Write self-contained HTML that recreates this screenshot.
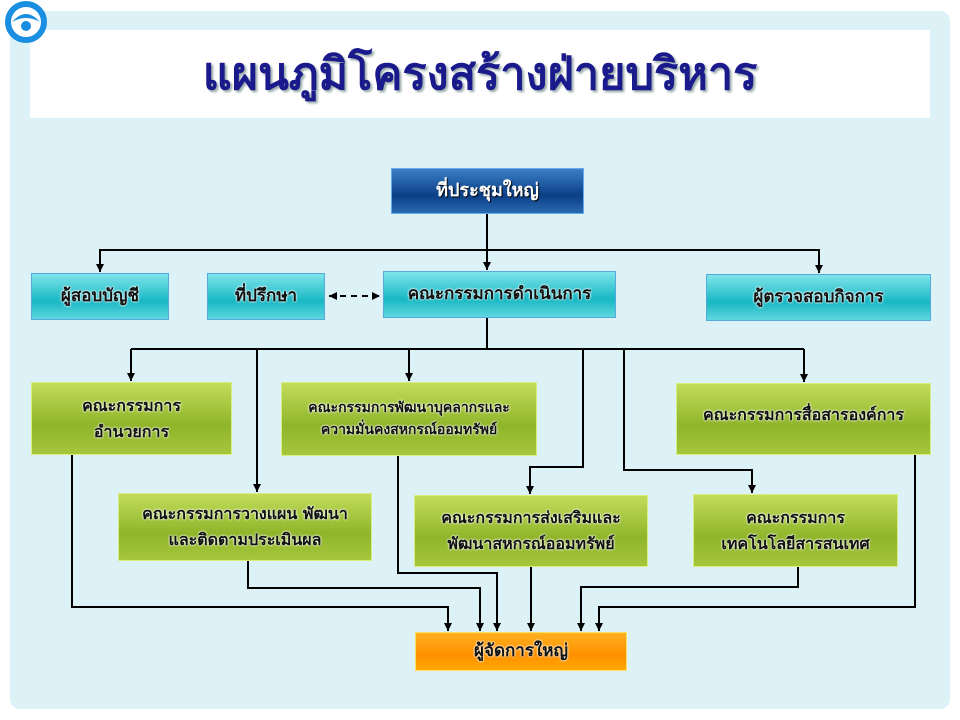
<!DOCTYPE html>
<html><head><meta charset="utf-8"><style>
*{margin:0;padding:0;box-sizing:border-box}
body{width:960px;height:720px;background:#fff;position:relative;overflow:hidden;font-family:"DejaVu Sans","Liberation Sans",sans-serif}
.panel{position:absolute;left:10px;top:11px;width:940px;height:698px;background:#dcf2f7;border-radius:10px}
.title{position:absolute;left:30px;top:30px;width:900px;height:88px;background:#fff;text-align:center;line-height:88px;font-size:45px;font-weight:bold;color:#1a1a8c;text-shadow:2px 2px 2px #9aa}
.b{position:absolute;display:flex;align-items:center;justify-content:center;text-align:center;font-weight:bold;line-height:1.6;color:#111;text-shadow:0 0 2px #fff,0 0 2px #fff}
.cy{background:linear-gradient(#7fe4ea,#18b8c4 60%,#5fd6de);border:1px solid #5ad;font-size:17px}
.gr{background:linear-gradient(#c2dc5a,#8fb52a 60%,#a6c63c);border:1px solid #d8ee80;font-size:16px}
.bl{background:linear-gradient(#3b7fc6,#0b3f86 60%,#2a6ab0);border:1px solid #6ae;color:#fff;text-shadow:1px 1px 1px #000;font-size:18px}
.or{background:linear-gradient(#ffb020,#ff9000 60%,#ffa800);border:1px solid #ffe060;font-size:17px}
svg{position:absolute;left:0;top:0}
</style></head><body>
<div class="panel"></div>
<div class="title">แผนภูมิโครงสร้างฝ่ายบริหาร</div>
<svg width="960" height="720">
<defs>
<marker id="h" markerWidth="10" markerHeight="10" refX="8" refY="4" orient="auto-start-reverse" markerUnits="userSpaceOnUse"><path d="M0,0 L8,4 L0,8z" fill="#000"/></marker></defs>
<circle cx="26" cy="22" r="18" fill="#fff" stroke="#1a8ee0" stroke-width="6"/>
<path d="M12,22 Q26,6 40,22 Q26,14 12,22z" fill="#1a8ee0"/><circle cx="26" cy="26" r="5" fill="#1a8ee0"/>
<g stroke="#000" stroke-width="2" fill="none">
<path d="M487,214V270" marker-end="url(#h)"/>
<path d="M100,272V250H819V273" marker-end="url(#h)"/>
<path d="M100,250V272" marker-end="url(#h)"/>
<path d="M487,318V349"/>
<path d="M131,349H804"/>
<path d="M131,349V381" marker-end="url(#h)"/>
<path d="M257,349V492" marker-end="url(#h)"/>
<path d="M409,349V381" marker-end="url(#h)"/>
<path d="M804,349V382" marker-end="url(#h)"/>
<path d="M583,349V467H530V494" marker-end="url(#h)"/>
<path d="M624,349V470H752V493" marker-end="url(#h)"/>
<path d="M72,455V607H448V631" marker-end="url(#h)"/>
<path d="M248,561V588H480V631" marker-end="url(#h)"/>
<path d="M398,456V573H497V631" marker-end="url(#h)"/>
<path d="M531,567V631" marker-end="url(#h)"/>
<path d="M798,567V587H581V631" marker-end="url(#h)"/>
<path d="M915,455V607H599V631" marker-end="url(#h)"/>
<path d="M329,296H380" stroke-dasharray="6,5" marker-start="url(#h)" marker-end="url(#h)"/>
</g></svg>
<div class="b bl" style="left:391px;top:168px;width:193px;height:46px">ที่ประชุมใหญ่</div>
<div class="b cy" style="left:31px;top:273px;width:138px;height:47px">ผู้สอบบัญชี</div>
<div class="b cy" style="left:207px;top:273px;width:118px;height:47px">ที่ปรึกษา</div>
<div class="b cy" style="left:383px;top:271px;width:233px;height:47px">คณะกรรมการดำเนินการ</div>
<div class="b cy" style="left:706px;top:274px;width:225px;height:47px">ผู้ตรวจสอบกิจการ</div>
<div class="b gr" style="left:31px;top:382px;width:201px;height:73px">คณะกรรมการ<br>อำนวยการ</div>
<div class="b gr" style="left:281px;top:382px;width:256px;height:74px;font-size:14px">คณะกรรมการพัฒนาบุคลากรและ<br>ความมั่นคงสหกรณ์ออมทรัพย์</div>
<div class="b gr" style="left:676px;top:383px;width:255px;height:72px;align-items:flex-start;padding-top:18px">คณะกรรมการสื่อสารองค์การ</div>
<div class="b gr" style="left:118px;top:493px;width:254px;height:68px">คณะกรรมการวางแผน พัฒนา<br>และติดตามประเมินผล</div>
<div class="b gr" style="left:414px;top:495px;width:234px;height:72px">คณะกรรมการส่งเสริมและ<br>พัฒนาสหกรณ์ออมทรัพย์</div>
<div class="b gr" style="left:693px;top:494px;width:205px;height:73px">คณะกรรมการ<br>เทคโนโลยีสารสนเทศ</div>
<div class="b or" style="left:415px;top:632px;width:212px;height:39px">ผู้จัดการใหญ่</div>
</body></html>
